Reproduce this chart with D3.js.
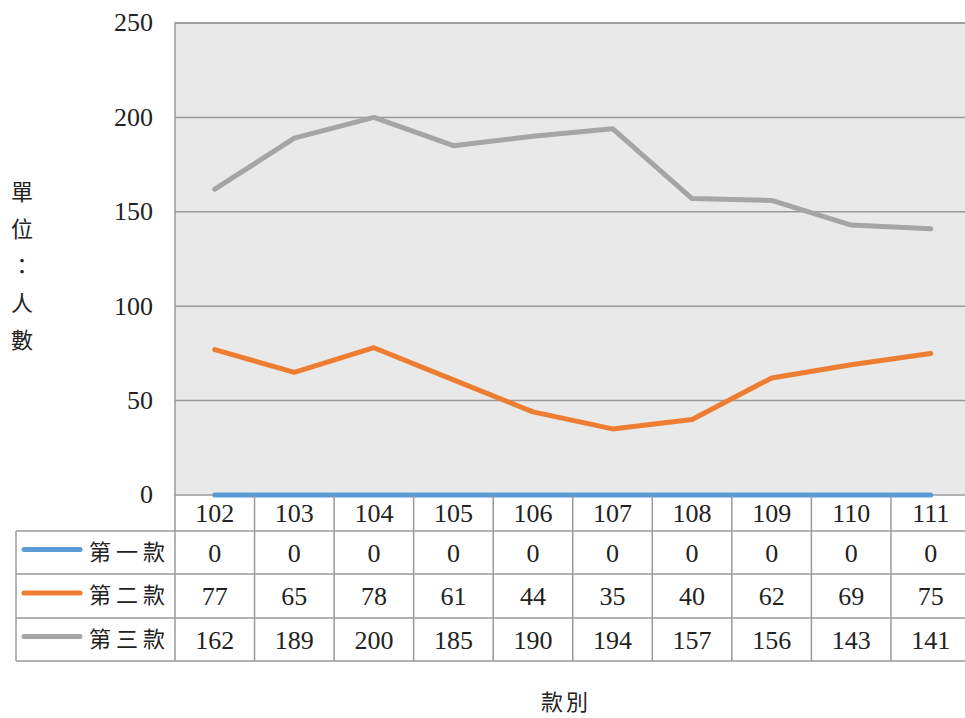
<!DOCTYPE html>
<html><head><meta charset="utf-8">
<script src="https://cdn.jsdelivr.net/npm/d3@7"></script>
<style>body{margin:0;background:#fff} .num{font-family:"Liberation Serif","DejaVu Serif","Times New Roman",serif;} .cjk{font-family:"Noto Sans CJK TC","Noto Sans CJK SC",sans-serif;}</style>
</head><body>
<svg id="c" width="965" height="718"></svg>
<script>
const categories = ["102","103","104","105","106","107","108","109","110","111"];
const seriesNames = ["第一款","第二款","第三款"];
const s1 = [0,0,0,0,0,0,0,0,0,0];
const s2 = [77,65,78,61,44,35,40,62,69,75];
const s3 = [162,189,200,185,190,194,157,156,143,141];
const yTicks = [0,50,100,150,200,250];
const colors = ["#5b9bd5","#ed7d31","#a5a5a5"];
const series = [s1,s2,s3];

const svg = d3.select("#c");
const L = 175, R = 970.5, T = 23, B = 495;
const NS = 26;

const x = d3.scaleBand().domain(categories).range([L,R]);
const y = d3.scaleLinear().domain([0,250]).range([B,T]);

svg.append("rect").attr("x",L).attr("y",T).attr("width",R-L).attr("height",B-T)
  .attr("fill","#e9e9e9").attr("stroke","#9a9a9a").attr("stroke-width",1.5);

svg.append("g").selectAll("line").data(yTicks.filter(d=>d>0)).join("line")
  .attr("x1",L).attr("x2",R).attr("y1",d=>y(d)).attr("y2",d=>y(d))
  .attr("stroke","#999").attr("stroke-width",1.5);

const yAxis = d3.axisLeft(y).tickValues(yTicks).tickSize(0).tickPadding(22);
const ga = svg.append("g").attr("transform",`translate(${L},0)`).call(yAxis);
ga.attr("font-family",null).attr("font-size",null);
ga.select(".domain").remove();
ga.selectAll("text").attr("class","num").attr("font-size",NS).attr("fill","#222").attr("dy","0.3em");

const line = d3.line().x((d,i)=>x(categories[i])+x.bandwidth()/2).y(d=>y(d));
series.forEach((s,k)=>{
  svg.append("path").datum(s).attr("d",line).attr("fill","none")
    .attr("stroke",colors[k]).attr("stroke-width",5).attr("stroke-linecap","round").attr("stroke-linejoin","round");
});

const rowY = [495,531,574,618,661];
const tL = 16;
const tg = svg.append("g");
const stroke = "#9a9a9a";
tg.selectAll("line.h").data(rowY.slice(1)).join("line").attr("class","h")
  .attr("x1",tL).attr("x2",R).attr("y1",d=>d).attr("y2",d=>d).attr("stroke",stroke).attr("stroke-width",1.5);
const vx = categories.map(c=>x(c)).concat([R]);
tg.selectAll("line.v").data(vx).join("line").attr("class","v")
  .attr("x1",d=>d).attr("x2",d=>d).attr("y1",495).attr("y2",661).attr("stroke",stroke).attr("stroke-width",1.5);
tg.append("line").attr("x1",tL).attr("x2",tL).attr("y1",531).attr("y2",661).attr("stroke",stroke).attr("stroke-width",1.5);

tg.selectAll("text.hd").data(categories).join("text").attr("class","num")
  .attr("x",d=>x(d)+x.bandwidth()/2).attr("y",(rowY[0]+rowY[1])/2+9)
  .attr("text-anchor","middle").attr("font-size",NS).attr("fill","#222").text(d=>d);

series.forEach((s,k)=>{
  const cy = (rowY[k+1]+rowY[k+2])/2;
  tg.selectAll("text.r"+k).data(s).join("text").attr("class","num")
    .attr("x",(d,i)=>x(categories[i])+x.bandwidth()/2).attr("y",cy+9)
    .attr("text-anchor","middle").attr("font-size",NS).attr("fill","#222").text(d=>d);
  tg.append("line").attr("x1",24).attr("x2",80).attr("y1",cy-3).attr("y2",cy-3)
    .attr("stroke",colors[k]).attr("stroke-width",5).attr("stroke-linecap","round");
  tg.append("text").attr("class","cjk").attr("x",89).attr("y",cy+7).attr("font-size",22)
    .attr("letter-spacing",5).attr("fill","#222").text(seriesNames[k]);
});

const yt = ["單","位","：","人","數"];
svg.append("g").selectAll("text").data(yt).join("text").attr("class","cjk")
  .attr("x",22).attr("y",(d,i)=>200+i*37).attr("text-anchor","middle")
  .attr("font-size",22).attr("fill","#222").text(d=>d);

svg.append("text").attr("class","cjk").attr("x",566).attr("y",710).attr("text-anchor","middle")
  .attr("font-size",22).attr("letter-spacing",3).attr("fill","#222").text("款別");
</script>
</body></html>
